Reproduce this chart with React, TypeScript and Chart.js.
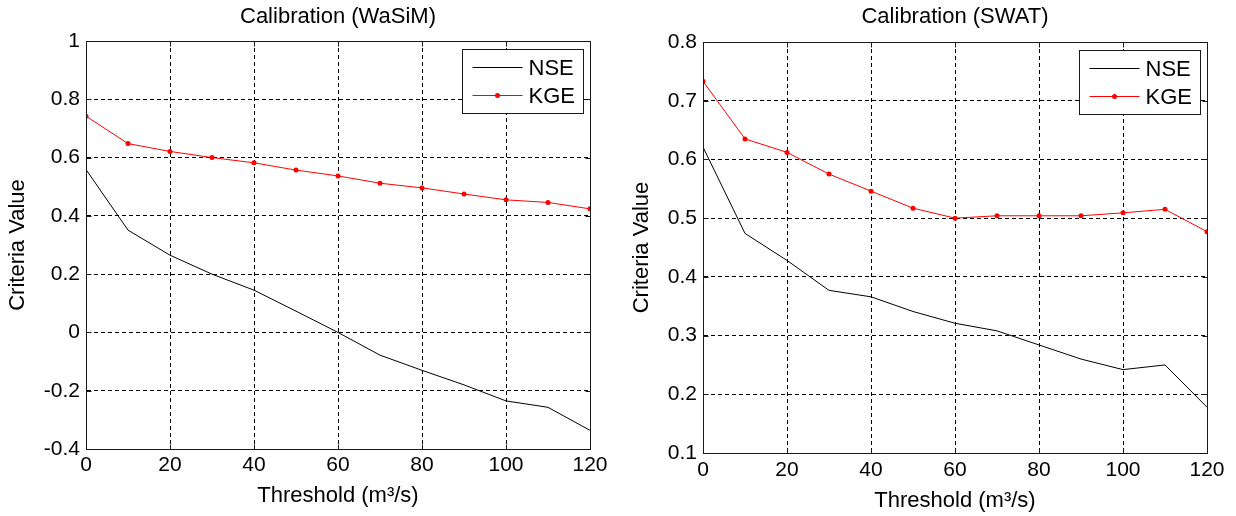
import React, { useEffect, useRef } from "react";
import { Chart, registerables } from "chart.js";

Chart.register(...registerables);

// ---- data ----
const thresholds = [0, 10, 20, 30, 40, 50, 60, 70, 80, 90, 100, 110, 120];
const xTicks = [0, 20, 40, 60, 80, 100, 120];

const wasimNSE = [0.559, 0.351, 0.265, 0.2, 0.145, 0.073, 0.0, -0.078, -0.13, -0.18, -0.235, -0.257, -0.336];
const wasimKGE = [0.742, 0.648, 0.621, 0.6, 0.582, 0.557, 0.537, 0.512, 0.496, 0.475, 0.455, 0.446, 0.424];
const wasimYTicks = [-0.4, -0.2, 0, 0.2, 0.4, 0.6, 0.8, 1];

const swatNSE = [0.621, 0.474, 0.428, 0.377, 0.366, 0.341, 0.321, 0.308, 0.284, 0.26, 0.242, 0.25, 0.178];
const swatKGE = [0.733, 0.635, 0.612, 0.575, 0.546, 0.517, 0.5, 0.504, 0.504, 0.504, 0.509, 0.515, 0.477];
const swatYTicks = [0.1, 0.2, 0.3, 0.4, 0.5, 0.6, 0.7, 0.8];

const seriesNames = ["NSE", "KGE"];
const chartTitles = ["Calibration (WaSiM)", "Calibration (SWAT)"];
const xTitle = "Threshold (m\u00B3/s)";
const yTitle = "Criteria Value";

// ---- styling ----
const FONT = "'Liberation Sans', Arial, Helvetica, sans-serif";
const FS_TICK = 21;
const FS_TEXT = 22;

const framePlugin = {
  id: "frameAndLegend",
  afterDraw(chart: any) {
    const { ctx, chartArea: a, scales } = chart;
    const L = Math.round(a.left) + 0.5;
    const R = Math.round(a.right) + 0.5;
    const T = Math.round(a.top) + 0.5;
    const B = Math.round(a.bottom) + 0.5;
    ctx.save();
    ctx.setLineDash([]);
    ctx.strokeStyle = "#1a1a1a";
    ctx.lineWidth = 1;
    ctx.strokeRect(L, T, R - L, B - T);
    // inner tick marks
    const tl = 5;
    ctx.beginPath();
    for (const t of scales.x.ticks) {
      const px = Math.round(scales.x.getPixelForValue(t.value)) + 0.5;
      ctx.moveTo(px, B);
      ctx.lineTo(px, B - tl);
      ctx.moveTo(px, T);
      ctx.lineTo(px, T + tl);
    }
    for (const t of scales.y.ticks) {
      const py = Math.round(scales.y.getPixelForValue(t.value)) + 0.5;
      ctx.moveTo(L, py);
      ctx.lineTo(L + tl, py);
      ctx.moveTo(R, py);
      ctx.lineTo(R - tl, py);
    }
    ctx.stroke();

    // legend box
    const bx = Math.round(a.right - 128) + 0.5;
    const by = Math.round(a.top + 8) + 0.5;
    const bw = 121;
    const bh = 64;
    ctx.fillStyle = "#ffffff";
    ctx.fillRect(bx, by, bw, bh);
    ctx.strokeStyle = "#1a1a1a";
    ctx.strokeRect(bx, by, bw, bh);
    const ds = chart.data.datasets;
    ds.forEach((d: any, i: number) => {
      const y = Math.round(by + 17 + i * 28) + 0.5;
      ctx.strokeStyle = d.borderColor;
      ctx.lineWidth = 1;
      ctx.beginPath();
      ctx.moveTo(bx + 10, y);
      ctx.lineTo(bx + 60, y);
      ctx.stroke();
      if (d.pointRadius > 0) {
        ctx.fillStyle = d.borderColor;
        ctx.beginPath();
        ctx.arc(bx + 35, y, d.pointRadius, 0, Math.PI * 2);
        ctx.fill();
      }
      ctx.fillStyle = "#000";
      ctx.font = `${FS_TEXT}px ${FONT}`;
      ctx.textAlign = "left";
      ctx.textBaseline = "middle";
      ctx.fillText(d.label, bx + 66, y + 1);
    });
    ctx.restore();
  },
};

type Lay = {
  yWidth: number;
  padRight: number;
  titleTop: number;
  titleBottom: number;
  xHeight: number;
  xTickPad: number;
  xTitlePad: number;
  yTitlePad: number;
};

function fmt(v: number) {
  return String(Math.round(v * 10) / 10);
}

function makeConfig(
  title: string,
  nse: number[],
  kge: number[],
  yTicks: number[],
  lay: Lay
): any {
  const tickFont = { family: FONT, size: FS_TICK, weight: "normal" as const, lineHeight: 1.2 };
  const textFont = { family: FONT, size: FS_TEXT, weight: "normal" as const, lineHeight: 1.2 };
  return {
    type: "line",
    data: {
      datasets: [
        {
          label: seriesNames[0],
          data: thresholds.map((x, i) => ({ x, y: nse[i] })),
          borderColor: "#000000",
          backgroundColor: "#000000",
          borderWidth: 1,
          pointRadius: 0,
          tension: 0,
          fill: false,
        },
        {
          label: seriesNames[1],
          data: thresholds.map((x, i) => ({ x, y: kge[i] })),
          borderColor: "#ff0000",
          backgroundColor: "#ff0000",
          borderWidth: 1,
          pointRadius: 2.5,
          pointBorderWidth: 0,
          pointStyle: "circle",
          tension: 0,
          fill: false,
        },
      ],
    },
    options: {
      animation: false,
      responsive: false,
      maintainAspectRatio: false,
      devicePixelRatio: 1,
      layout: { padding: { left: 0, right: lay.padRight, top: 0, bottom: 0 } },
      plugins: {
        legend: { display: false },
        tooltip: { enabled: false },
        title: {
          display: true,
          text: title,
          fullSize: false,
          color: "#000",
          font: textFont,
          padding: { top: lay.titleTop, bottom: lay.titleBottom },
        },
      },
      scales: {
        x: {
          type: "linear",
          min: xTicks[0],
          max: xTicks[xTicks.length - 1],
          afterBuildTicks: (s: any) => {
            s.ticks = xTicks.map((v) => ({ value: v }));
          },
          afterFit: (s: any) => {
            s.height = lay.xHeight;
          },
          ticks: {
            font: tickFont,
            color: "#000",
            padding: lay.xTickPad,
            maxRotation: 0,
            autoSkip: false,
            callback: (v: any) => String(v),
          },
          grid: { color: "#000", lineWidth: 1, drawTicks: false },
          border: { display: true, color: "#1a1a1a", width: 1, dash: [4, 3] },
          title: {
            display: true,
            text: xTitle,
            color: "#000",
            font: textFont,
            padding: { top: 0, bottom: lay.xTitlePad },
          },
        },
        y: {
          type: "linear",
          min: yTicks[0],
          max: yTicks[yTicks.length - 1],
          afterBuildTicks: (s: any) => {
            s.ticks = yTicks.map((v) => ({ value: v }));
          },
          afterFit: (s: any) => {
            s.width = lay.yWidth;
          },
          ticks: {
            font: tickFont,
            color: "#000",
            padding: 6,
            autoSkip: false,
            callback: (v: any) => fmt(Number(v)),
          },
          grid: { color: "#000", lineWidth: 1, drawTicks: false },
          border: { display: true, color: "#1a1a1a", width: 1, dash: [4, 3] },
          title: {
            display: true,
            text: yTitle,
            color: "#000",
            font: textFont,
            padding: { top: lay.yTitlePad, bottom: 0 },
          },
        },
      },
    },
    plugins: [framePlugin],
  };
}

export default function App() {
  const leftRef = useRef<HTMLCanvasElement>(null);
  const rightRef = useRef<HTMLCanvasElement>(null);

  useEffect(() => {
    const c1 = new Chart(
      leftRef.current as HTMLCanvasElement,
      makeConfig(chartTitles[0], wasimNSE, wasimKGE, wasimYTicks, {
        yWidth: 86,
        padRight: 28,
        titleTop: 4,
        titleBottom: 10.6,
        xHeight: 67,
        xTickPad: 4,
        xTitlePad: 7,
        yTitlePad: 5,
      })
    );
    const c2 = new Chart(
      rightRef.current as HTMLCanvasElement,
      makeConfig(chartTitles[1], swatNSE, swatKGE, swatYTicks, {
        yWidth: 85,
        padRight: 29,
        titleTop: 4,
        titleBottom: 11.6,
        xHeight: 63,
        xTickPad: 5,
        xTitlePad: 2,
        yTitlePad: 11,
      })
    );
    return () => {
      c1.destroy();
      c2.destroy();
    };
  }, []);

  return (
    <div
      style={{
        position: "fixed",
        left: 0,
        top: 0,
        width: 1236,
        height: 516,
        background: "#ffffff",
        overflow: "hidden",
      }}
    >
      <div style={{ position: "absolute", left: 0, top: 0, width: 618, height: 516 }}>
        <canvas ref={leftRef} width={618} height={516} style={{ width: 618, height: 516, display: "block" }} />
      </div>
      <div style={{ position: "absolute", left: 618, top: 0, width: 618, height: 516 }}>
        <canvas ref={rightRef} width={618} height={516} style={{ width: 618, height: 516, display: "block" }} />
      </div>
    </div>
  );
}
